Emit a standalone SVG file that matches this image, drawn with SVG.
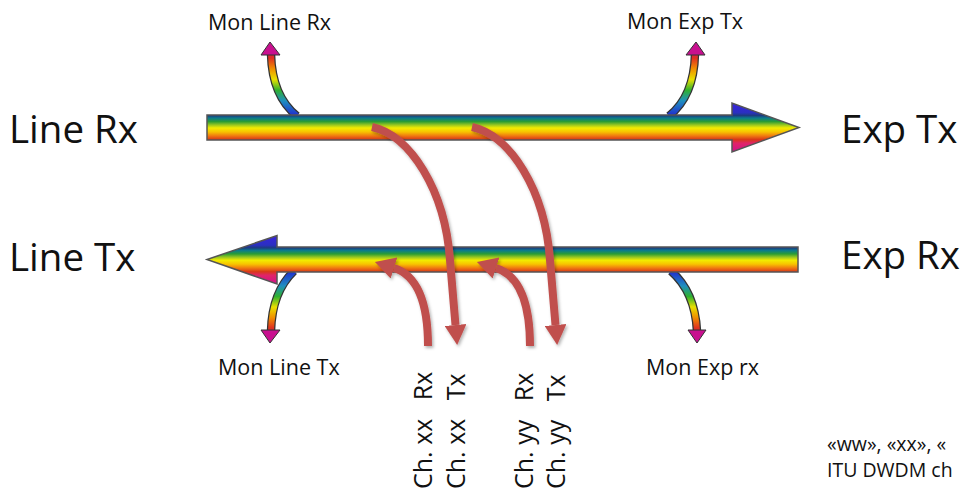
<svg xmlns="http://www.w3.org/2000/svg" width="965" height="491" viewBox="0 0 965 491">
<style>
text{font-family:"Open Sans","Liberation Sans",sans-serif;fill:#111}
.big{font-size:38.5px}
.small{font-size:21.5px}
.ch{font-size:25px}
.note{font-size:19.5px}
.main{stroke:#555;stroke-width:1.5;stroke-linejoin:miter}
.monout{fill:none;stroke:#333;stroke-width:8.5}
.red{fill:none;stroke:#c0504d;stroke-width:8}
</style>
<defs>
<linearGradient id="rainbow" x1="0" y1="0" x2="0" y2="1">
<stop offset="0" stop-color="#3a22e0"/>
<stop offset="0.2" stop-color="#2a30c0"/>
<stop offset="0.255" stop-color="#1c3c80"/>
<stop offset="0.31" stop-color="#0c7c8c"/>
<stop offset="0.38" stop-color="#2a9c34"/>
<stop offset="0.45" stop-color="#9cc820"/>
<stop offset="0.51" stop-color="#f2ec00"/>
<stop offset="0.59" stop-color="#f8c400"/>
<stop offset="0.67" stop-color="#f07a10"/>
<stop offset="0.745" stop-color="#d83818"/>
<stop offset="0.82" stop-color="#e02468"/>
<stop offset="1" stop-color="#d0108c"/>
</linearGradient>
<linearGradient id="gUp" gradientUnits="userSpaceOnUse" x1="0" y1="115" x2="0" y2="44">
<stop offset="0" stop-color="#1f2fcf"/>
<stop offset="0.2" stop-color="#1f8fbf"/>
<stop offset="0.35" stop-color="#2fb02f"/>
<stop offset="0.5" stop-color="#e8e000"/>
<stop offset="0.65" stop-color="#f09000"/>
<stop offset="0.8" stop-color="#e03020"/>
<stop offset="1" stop-color="#c8108f"/>
</linearGradient>
<linearGradient id="gDown" gradientUnits="userSpaceOnUse" x1="0" y1="272" x2="0" y2="342">
<stop offset="0" stop-color="#1f2fcf"/>
<stop offset="0.2" stop-color="#1f8fbf"/>
<stop offset="0.35" stop-color="#2fb02f"/>
<stop offset="0.5" stop-color="#e8e000"/>
<stop offset="0.65" stop-color="#f09000"/>
<stop offset="0.8" stop-color="#e03020"/>
<stop offset="1" stop-color="#c8108f"/>
</linearGradient>
<marker id="redHead" viewBox="0 0 20 22" refX="0" refY="11" markerWidth="20" markerHeight="22" markerUnits="userSpaceOnUse" orient="auto">
<path d="M0,0 L20,11 L0,22 z" fill="#c0504d"/>
</marker>
<filter id="shadow" x="-20%" y="-20%" width="140%" height="140%">
<feDropShadow dx="1.5" dy="2" stdDeviation="1.5" flood-color="#000" flood-opacity="0.3"/>
</filter>
</defs>

<g id="connectors">
<g id="mon-arrows">
<g id="mon-line-rx-arrow">
<path class="monout" d="M297,116 Q272,96 271,54"/>
<path d="M297,116 Q272,96 271,54" fill="none" stroke="url(#gUp)" stroke-width="6"/>
<polygon points="261,55 270,42 280,55" fill="#c8108f" stroke="#333" stroke-width="1"/>
</g>
<g id="mon-exp-tx-arrow">
<path class="monout" d="M669,116 Q694,96 695,54"/>
<path d="M669,116 Q694,96 695,54" fill="none" stroke="url(#gUp)" stroke-width="6"/>
<polygon points="686,55 696,42 705,55" fill="#c8108f" stroke="#333" stroke-width="1"/>
</g>
<g id="mon-line-tx-arrow">
<path class="monout" d="M294,271 Q272,292 271,331"/>
<path d="M294,271 Q272,292 271,331" fill="none" stroke="url(#gDown)" stroke-width="6"/>
<polygon points="261,330 270,343 280,330" fill="#c8108f" stroke="#333" stroke-width="1"/>
</g>
<g id="mon-exp-rx-arrow">
<path class="monout" d="M671,271 Q695,292 697,331"/>
<path d="M671,271 Q695,292 697,331" fill="none" stroke="url(#gDown)" stroke-width="6"/>
<polygon points="688,330 697,343 706,330" fill="#c8108f" stroke="#333" stroke-width="1"/>
</g>
</g>
</g>

<g id="line-rx-exp-tx-arrow">
<polygon class="main" fill="url(#rainbow)" points="207,115 732,115 732,103 799,127.5 732,152 732,140 207,140"/>
</g>
<g id="exp-rx-line-tx-arrow">
<polygon class="main" fill="url(#rainbow)" points="798,247 277,247 277,235.5 207,259.5 277,284 277,272 798,272"/>
</g>

<g id="channel-connectors" filter="url(#shadow)">
<path class="red" d="M372,127 C410,135 445,190 450,260 L455.5,325" marker-end="url(#redHead)"/>
<path class="red" d="M472,127 C510,135 545,190 550,260 L555.5,325" marker-end="url(#redHead)"/>
<path class="red" d="M428,346 C428,305 419,276 394,268" marker-end="url(#redHead)"/>
<path class="red" d="M530,346 C530,305 521,276 496,268" marker-end="url(#redHead)"/>
</g>

<g id="labels">
<g id="line-rx"><text class="big" x="9" y="143">Line Rx</text></g>
<g id="exp-tx"><text class="big" x="841" y="143">Exp Tx</text></g>
<g id="line-tx"><text class="big" x="9" y="271">Line Tx</text></g>
<g id="exp-rx"><text class="big" x="841" y="269">Exp Rx</text></g>
<g id="mon-line-rx"><text class="small" x="208" y="30">Mon Line Rx</text></g>
<g id="mon-exp-tx"><text class="small" x="627" y="29">Mon Exp Tx</text></g>
<g id="mon-line-tx"><text class="small" x="218" y="375">Mon Line Tx</text></g>
<g id="mon-exp-rx"><text class="small" x="646" y="375">Mon Exp rx</text></g>
<g id="ch-xx-rx"><text class="ch" transform="translate(432,489) rotate(-90)">Ch. xx<tspan dx="12"> Rx</tspan></text></g>
<g id="ch-xx-tx"><text class="ch" transform="translate(465,489) rotate(-90)">Ch. xx<tspan dx="12"> Tx</tspan></text></g>
<g id="ch-yy-rx"><text class="ch" transform="translate(533,489) rotate(-90)">Ch. yy<tspan dx="12"> Rx</tspan></text></g>
<g id="ch-yy-tx"><text class="ch" transform="translate(565,489) rotate(-90)">Ch. yy<tspan dx="12"> Tx</tspan></text></g>
<g id="note"><text class="note" x="827" y="451">«ww», «xx», «</text><text class="note" x="827" y="477">ITU DWDM ch</text></g>
</g>
</svg>
